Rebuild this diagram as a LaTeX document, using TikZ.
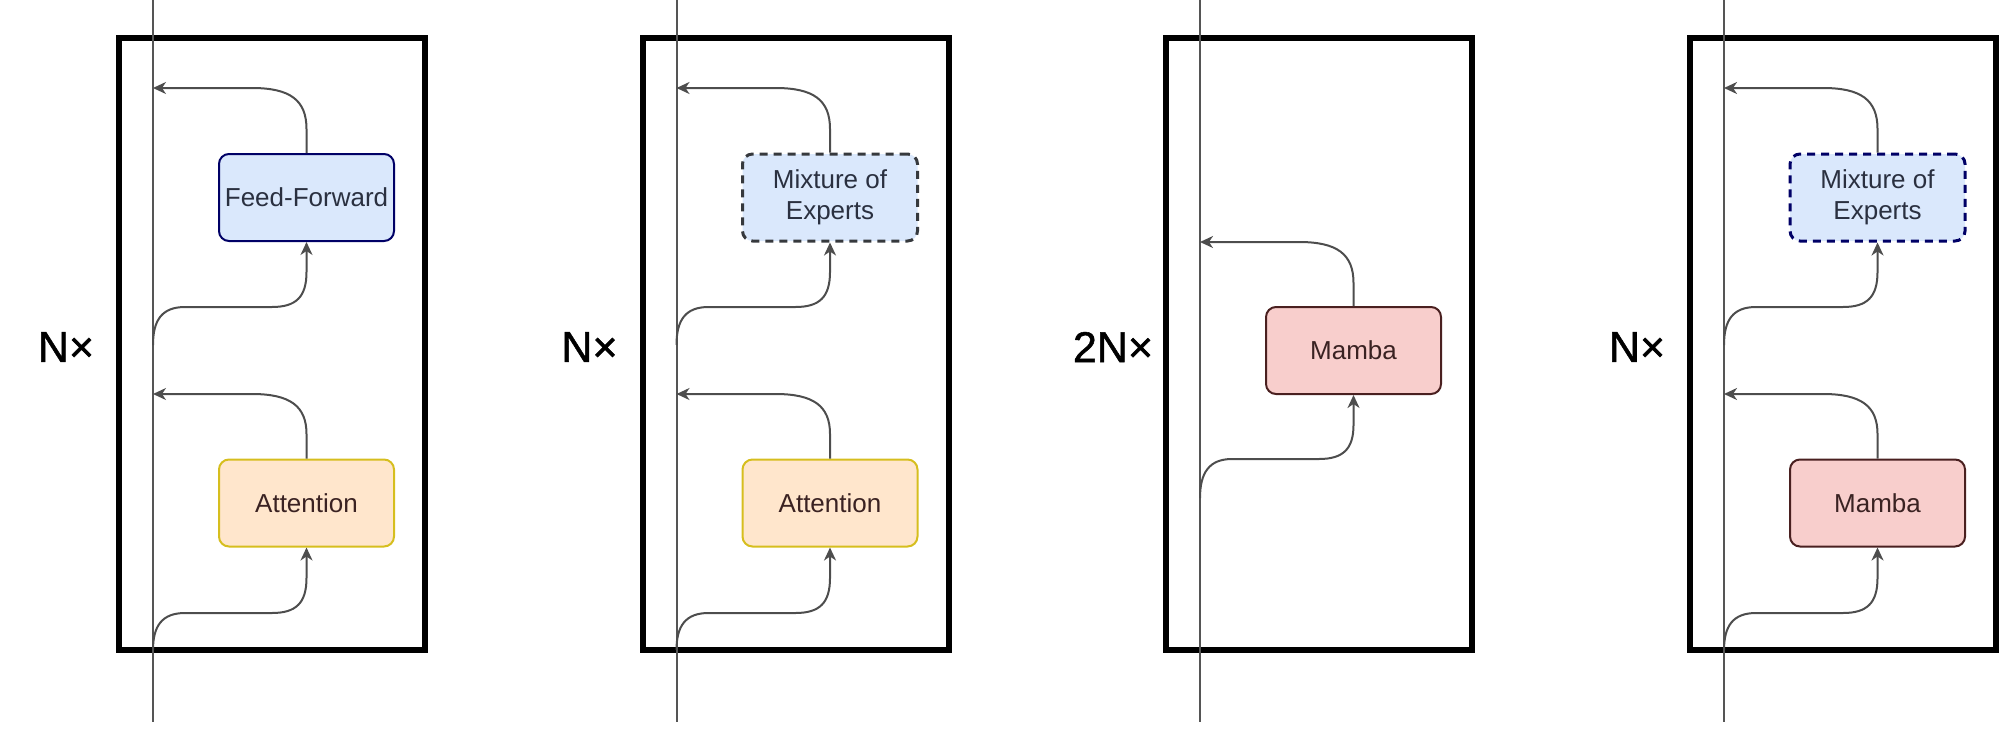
\documentclass[tikz,border=0pt]{standalone}
\usepackage{fontspec}
\setmainfont{Liberation Sans}
\newfontfamily\multfont{Liberation Sans}[FakeBold=1.2]
\usetikzlibrary{arrows.meta}
\definecolor{edgec}{HTML}{4D4D4D}
\definecolor{trunkc}{HTML}{555555}
\definecolor{bluefill}{HTML}{DAE8FC}
\definecolor{navy}{HTML}{000066}
\definecolor{darkgray}{HTML}{36393D}
\definecolor{peachfill}{HTML}{FFE6CC}
\definecolor{yellowline}{HTML}{D6BE1E}
\definecolor{redfill}{HTML}{F8CECC}
\definecolor{brownline}{HTML}{4A2020}
\definecolor{bluetext}{HTML}{2A3040}
\definecolor{browntext}{HTML}{3A2222}
\begin{document}
\begin{tikzpicture}[x=0.5pt,y=-0.5pt,
  frame/.style={draw=black, line width=3pt, minimum width=153pt, minimum height=306pt, inner sep=0pt},
  trunk/.style={draw=trunkc, line width=1pt},
  conn/.style={draw=edgec, line width=1pt, -{Stealth[length=6.5pt,width=6pt,inset=2pt]}},
  blk/.style={rounded corners=5pt, line width=1pt, minimum width=87.5pt, minimum height=43.5pt, inner sep=0pt, align=center, font=\fontsize{13}{15.5}\selectfont},
  ffbox/.style={blk, fill=bluefill, draw=navy, text=bluetext},
  moebox/.style={blk, fill=bluefill, line width=1.5pt, dash pattern=on 4pt off 3pt, text=bluetext},
  attbox/.style={blk, fill=peachfill, draw=yellowline, text=browntext},
  mambox/.style={blk, fill=redfill, draw=brownline, text=browntext},
  mult/.style={font=\multfont\fontsize{21.5}{26}\selectfont, text=black}
]
\useasboundingbox (0,0) rectangle (2000,728);

% ---------- Panel 1 ----------
\node[frame] (f1) at (272,344) {};
\node[mult] (n1) at (66,347) {N×};
\coordinate (t1) at (153,0);
\coordinate (b1) at (153,722);
\draw[trunk] (t1) -- (b1);
\node[ffbox] (u1) at (306.5,197.5) {Feed-Forward};
\node[attbox] (l1) at (306.5,503) {Attention};
\coordinate (ru1) at (153,88);
\coordinate (su1) at (153,345);
\coordinate (rl1) at (153,394);
\coordinate (sl1) at (153,650);
\draw[conn] (u1.north) -- (306.5,129) .. controls (306.5,100) and (290,88) .. (252,88) -- (ru1);
\draw[conn] (su1) .. controls (153,320) and (162,307) .. (185,307) -- (272,307) .. controls (296,307) and (306.5,297) .. (306.5,272) -- (u1.south);
\draw[conn] (l1.north) -- (306.5,434) .. controls (306.5,406) and (290,394) .. (252,394) -- (rl1);
\draw[conn] (sl1) .. controls (153,626) and (162,613) .. (185,613) -- (272,613) .. controls (296,613) and (306.5,603) .. (306.5,578) -- (l1.south);

% ---------- Panel 2 ----------
\begin{scope}[shift={(523.5,0)}]
\node[frame] (f2) at (272,344) {};
\node[mult] (n2) at (66,347) {N×};
\coordinate (t2) at (153,0);
\coordinate (b2) at (153,722);
\draw[trunk] (t2) -- (b2);
\node[moebox, draw=darkgray] (u2) at (306.5,197.5) {Mixture of\\Experts};
\node[attbox] (l2) at (306.5,503) {Attention};
\coordinate (ru2) at (153,88);
\coordinate (su2) at (153,345);
\coordinate (rl2) at (153,394);
\coordinate (sl2) at (153,650);
\draw[conn] (u2.north) -- (306.5,129) .. controls (306.5,100) and (290,88) .. (252,88) -- (ru2);
\draw[conn] (su2) .. controls (153,320) and (162,307) .. (185,307) -- (272,307) .. controls (296,307) and (306.5,297) .. (306.5,272) -- (u2.south);
\draw[conn] (l2.north) -- (306.5,434) .. controls (306.5,406) and (290,394) .. (252,394) -- (rl2);
\draw[conn] (sl2) .. controls (153,626) and (162,613) .. (185,613) -- (272,613) .. controls (296,613) and (306.5,603) .. (306.5,578) -- (l2.south);
\end{scope}

% ---------- Panel 3 ----------
\begin{scope}[shift={(1047,0)}]
\node[frame] (f3) at (272,344) {};
\node[mult] (n3) at (66,347) {2N×};
\coordinate (t3) at (153,0);
\coordinate (b3) at (153,722);
\draw[trunk] (t3) -- (b3);
\node[mambox] (m3) at (306.5,350.5) {Mamba};
\coordinate (r3) at (153,242);
\coordinate (s3) at (153,498);
\draw[conn] (m3.north) -- (306.5,283) .. controls (306.5,254) and (290,242) .. (252,242) -- (r3);
\draw[conn] (s3) .. controls (153,473) and (162,459) .. (185,459) -- (272,459) .. controls (296,459) and (306.5,449) .. (306.5,425) -- (m3.south);
\end{scope}

% ---------- Panel 4 ----------
\begin{scope}[shift={(1571,0)}]
\node[frame] (f4) at (272,344) {};
\node[mult] (n4) at (66,347) {N×};
\coordinate (t4) at (153,0);
\coordinate (b4) at (153,722);
\draw[trunk] (t4) -- (b4);
\node[moebox, draw=navy] (u4) at (306.5,197.5) {Mixture of\\Experts};
\node[mambox] (l4) at (306.5,503) {Mamba};
\coordinate (ru4) at (153,88);
\coordinate (su4) at (153,345);
\coordinate (rl4) at (153,394);
\coordinate (sl4) at (153,650);
\draw[conn] (u4.north) -- (306.5,129) .. controls (306.5,100) and (290,88) .. (252,88) -- (ru4);
\draw[conn] (su4) .. controls (153,320) and (162,307) .. (185,307) -- (272,307) .. controls (296,307) and (306.5,297) .. (306.5,272) -- (u4.south);
\draw[conn] (l4.north) -- (306.5,434) .. controls (306.5,406) and (290,394) .. (252,394) -- (rl4);
\draw[conn] (sl4) .. controls (153,626) and (162,613) .. (185,613) -- (272,613) .. controls (296,613) and (306.5,603) .. (306.5,578) -- (l4.south);
\end{scope}
\end{tikzpicture}
\end{document}
